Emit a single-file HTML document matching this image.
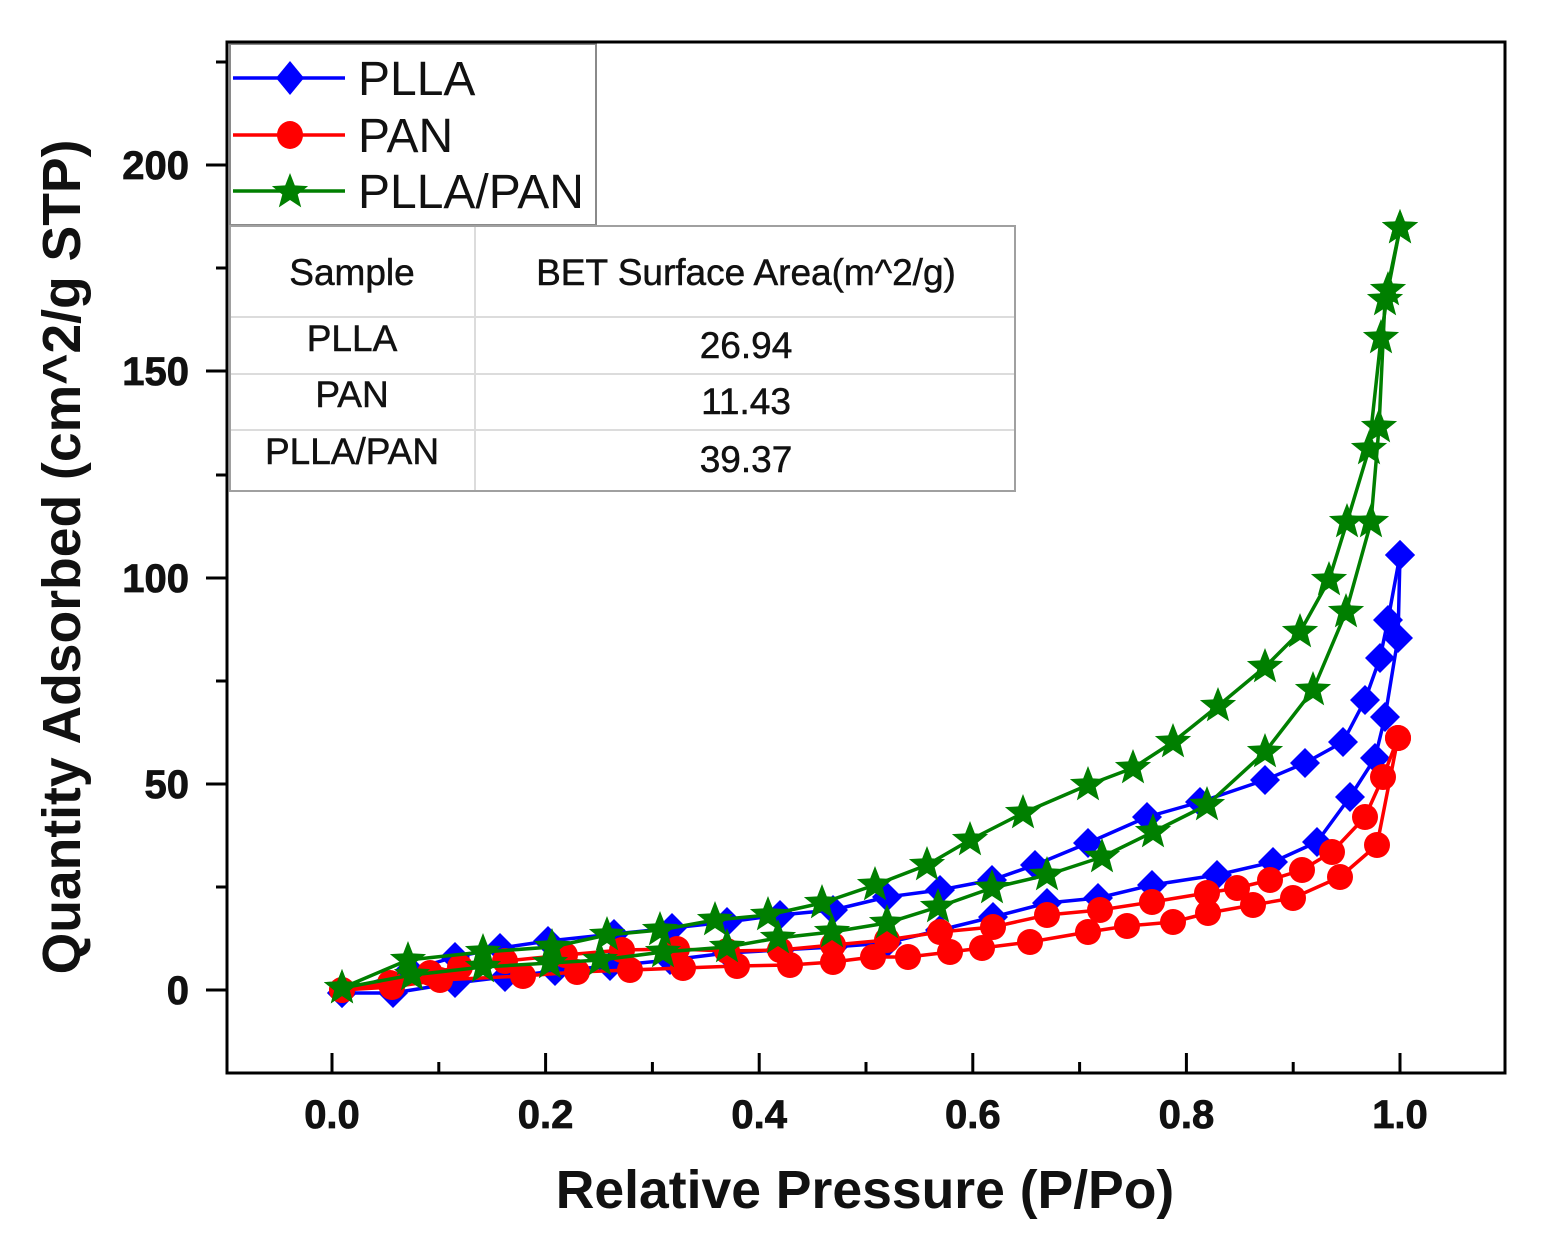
<!DOCTYPE html>
<html><head><meta charset="utf-8"><style>
html,body{margin:0;padding:0;background:#fff;}
svg{display:block;}
</style></head><body>
<svg width="1541" height="1251" viewBox="0 0 1541 1251" xmlns="http://www.w3.org/2000/svg">
<defs>
<marker id="md" markerUnits="userSpaceOnUse" viewBox="-22 -22 44 44" refX="0" refY="0" markerWidth="44" markerHeight="44" overflow="visible">
<polygon points="0,-15 15,0 0,15 -15,0" fill="#0000ff"/>
</marker>
<marker id="mc" markerUnits="userSpaceOnUse" viewBox="-22 -22 44 44" refX="0" refY="0" markerWidth="44" markerHeight="44" overflow="visible">
<circle cx="0" cy="0" r="13" fill="#ff0000"/>
</marker>
<marker id="ms" markerUnits="userSpaceOnUse" viewBox="-22 -22 44 44" refX="0" refY="0" markerWidth="44" markerHeight="44" overflow="visible">
<polygon points="0,-19 4.8,-6.6 18.1,-5.9 7.7,2.5 11.2,15.4 0,8 -11.2,15.4 -7.7,2.5 -18.1,-5.9 -4.8,-6.6" fill="#007f00"/>
</marker>
</defs>
<rect x="0" y="0" width="1541" height="1251" fill="#fff"/>

<!-- series -->
<g fill="none" stroke-width="3.5" stroke-linejoin="round">
<polyline stroke="#0000ff" marker-start="url(#md)" marker-mid="url(#md)" marker-end="url(#md)" points="342,993 393,993 455,983 505,977 555,971 610,966 670,960 727,953 780,950 833,947 887,943 940,930 993,917 1047,903 1098,898 1152,885 1217,875 1273,862 1317,842 1350,797 1375,758 1385,717 1398,638 1400,555"/>
<polyline stroke="#0000ff" marker-start="url(#md)" marker-mid="url(#md)" marker-end="url(#md)" points="1400,555 1388,620 1380,658 1365,700 1343,742 1305,763 1265,780 1200,802 1147,817 1088,843 1035,865 992,880 940,890 887,897 833,910 780,915 727,922 672,928 614,934 548,941 500,948 455,957 410,970 342,993"/>
<polyline stroke="#ff0000" marker-start="url(#mc)" marker-mid="url(#mc)" marker-end="url(#mc)" points="342,990 392,987 440,980 523,976 577,972 630,970 683,968 737,966 790,965 833,962 873,957 908,957 950,952 982,948 1030,942 1088,932 1127,926 1173,922 1208,913 1253,905 1293,898 1340,877 1377,845 1398,738"/>
<polyline stroke="#ff0000" marker-start="url(#mc)" marker-mid="url(#mc)" marker-end="url(#mc)" points="1398,738 1383,777 1365,817 1332,852 1302,870 1270,880 1237,888 1207,893 1152,902 1100,910 1047,915 993,927 940,932 887,940 833,945 780,950 727,951 677,949 622,950 565,955 505,961 460,967 430,973 390,983 342,990"/>
<polyline stroke="#007f00" marker-start="url(#ms)" marker-mid="url(#ms)" marker-end="url(#ms)" points="342,988 412,975 483,967 550,963 600,960 663,952 727,947 778,938 832,932 887,923 938,907 992,888 1047,875 1102,857 1153,832 1207,805 1265,752 1313,690 1346,612 1371,522 1379,427 1385,300 1400,228"/>
<polyline stroke="#007f00" marker-start="url(#ms)" marker-mid="url(#ms)" marker-end="url(#ms)" points="1400,228 1388,290 1381,338 1369,449 1347,522 1329,580 1300,632 1265,667 1218,706 1173,742 1133,768 1088,785 1023,813 970,840 927,865 875,885 822,903 768,915 715,920 660,930 607,935 552,947 483,952 408,960 342,988"/>
</g>

<!-- legend -->
<rect x="230" y="44" width="366" height="181" fill="#fff" stroke="#8a8a8a" stroke-width="2"/>
<line x1="233" y1="78" x2="345" y2="78" stroke="#0000ff" stroke-width="3.5"/>
<polygon points="290,61 304,78 290,95 276,78" fill="#0000ff"/>
<line x1="233" y1="135" x2="345" y2="135" stroke="#ff0000" stroke-width="3.5"/>
<ellipse cx="290" cy="135" rx="13" ry="14" fill="#ff0000"/>
<line x1="233" y1="191" x2="345" y2="191" stroke="#007f00" stroke-width="3.5"/>
<polygon transform="translate(290,192)" points="0,-19 4.8,-6.6 18.1,-5.9 7.7,2.5 11.2,15.4 0,8 -11.2,15.4 -7.7,2.5 -18.1,-5.9 -4.8,-6.6" fill="#007f00"/>
<g font-family="'Liberation Sans', Arial, sans-serif" font-size="48" fill="#111">
<text x="358" y="95">PLLA</text>
<text x="358" y="152">PAN</text>
<text x="358" y="208">PLLA/PAN</text>
</g>

<!-- table -->
<rect x="230" y="226" width="785" height="265" fill="#fff" stroke="#a0a0a0" stroke-width="2"/>
<g stroke="#dcdcdc" stroke-width="2">
<line x1="231" y1="317" x2="1014" y2="317"/>
<line x1="231" y1="374" x2="1014" y2="374"/>
<line x1="231" y1="430" x2="1014" y2="430"/>
<line x1="475" y1="227" x2="475" y2="490"/>
</g>
<g font-family="'Liberation Sans', Arial, sans-serif" font-size="37" fill="#111" stroke="#111" stroke-width="0.5" text-anchor="middle">
<text x="352" y="285">Sample</text>
<text x="746" y="285">BET Surface Area(m^2/g)</text>
<text x="352" y="351">PLLA</text>
<text x="746" y="358">26.94</text>
<text x="352" y="407">PAN</text>
<text x="746" y="414">11.43</text>
<text x="352" y="464">PLLA/PAN</text>
<text x="746" y="472">39.37</text>
</g>

<!-- frame -->
<rect x="227" y="42" width="1278" height="1031" fill="none" stroke="#000" stroke-width="3"/>

<!-- y ticks -->
<g stroke="#000" stroke-width="3">
<line x1="206" y1="990" x2="227" y2="990"/>
<line x1="206" y1="784" x2="227" y2="784"/>
<line x1="206" y1="578" x2="227" y2="578"/>
<line x1="206" y1="371" x2="227" y2="371"/>
<line x1="206" y1="165" x2="227" y2="165"/>
<line x1="216" y1="887" x2="227" y2="887"/>
<line x1="216" y1="681" x2="227" y2="681"/>
<line x1="216" y1="475" x2="227" y2="475"/>
<line x1="216" y1="268" x2="227" y2="268"/>
<line x1="216" y1="62" x2="227" y2="62"/>
</g>
<!-- x ticks -->
<g stroke="#000" stroke-width="3">
<line x1="332" y1="1072" x2="332" y2="1053"/>
<line x1="545.6" y1="1072" x2="545.6" y2="1053"/>
<line x1="759.2" y1="1072" x2="759.2" y2="1053"/>
<line x1="972.8" y1="1072" x2="972.8" y2="1053"/>
<line x1="1186.4" y1="1072" x2="1186.4" y2="1053"/>
<line x1="1400" y1="1072" x2="1400" y2="1053"/>
<line x1="438.8" y1="1072" x2="438.8" y2="1062"/>
<line x1="652.4" y1="1072" x2="652.4" y2="1062"/>
<line x1="866" y1="1072" x2="866" y2="1062"/>
<line x1="1079.6" y1="1072" x2="1079.6" y2="1062"/>
<line x1="1293.2" y1="1072" x2="1293.2" y2="1062"/>
</g>

<g font-family="'Liberation Sans', Arial, sans-serif" font-weight="bold" font-size="40" fill="#111" stroke="#111" stroke-width="0.8">
<g text-anchor="end">
<text x="189" y="1004">0</text>
<text x="189" y="798">50</text>
<text x="189" y="592">100</text>
<text x="189" y="385">150</text>
<text x="189" y="179">200</text>
</g>
<g text-anchor="middle">
<text x="332" y="1128">0.0</text>
<text x="545.6" y="1128">0.2</text>
<text x="759.2" y="1128">0.4</text>
<text x="972.8" y="1128">0.6</text>
<text x="1186.4" y="1128">0.8</text>
<text x="1400" y="1128">1.0</text>
</g>
</g>

<g font-family="'Liberation Sans', Arial, sans-serif" font-weight="bold" font-size="53.5" fill="#111" text-anchor="middle">
<text x="865" y="1208">Relative Pressure (P/Po)</text>
<text transform="translate(80,557) rotate(-90)" x="0" y="0">Quantity Adsorbed (cm^2/g STP)</text>
</g>
</svg>
</body></html>
